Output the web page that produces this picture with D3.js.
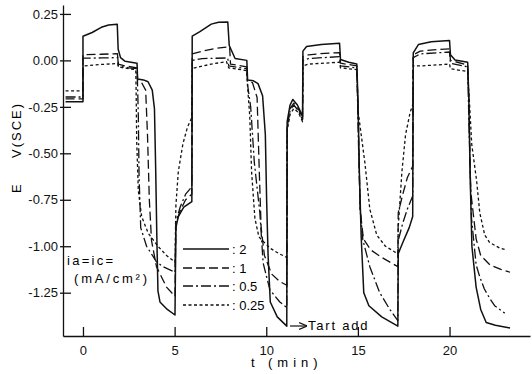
<!DOCTYPE html>
<html>
<head>
<meta charset="utf-8">
<script src="https://cdn.jsdelivr.net/npm/d3@7"></script>
<style>
  body { margin: 0; background: #fff; }
  svg { display: block; font-family: "Liberation Sans", Arial, sans-serif; }
  .axis path, .axis line { stroke: #111; stroke-width: 1.3; }
  .axis text { font-size: 13px; fill: #111; }
</style>
</head>
<body>
<div id="chart"></div>
<script>
// time ticks (min) and potential ticks (V vs SCE)
var xTicks = [0, 5, 10, 15, 20];
var yTicks = [0.25, 0, -0.25, -0.5, -0.75, -1.0, -1.25];

// current density labels, ia = ic (mA/cm2)
var currents = ["2", "1", "0.5", "0.25"];

// [t (min), E (V)], one array per current density
var solid2 = [
  [-0.95,-0.222],[0.0,-0.222],[0.0,0.13],[0.5,0.15],[1.0,0.178],[1.4,0.19],[1.87,0.195],
  [1.92,0.06],[2.05,0.015],[2.3,-0.005],[2.95,-0.015],[2.98,-0.1],[3.3,-0.105],[3.55,-0.115],
  [3.78,-0.16],[3.9,-0.26],[3.97,-0.6],[4.03,-0.95],[4.09,-1.24],[4.2,-1.3],[4.6,-1.34],[5.02,-1.37],
  [5.07,-0.9],[5.2,-0.84],[5.5,-0.79],[5.94,-0.76],
  [5.96,0.13],[6.38,0.155],[7.0,0.195],[7.4,0.205],[7.9,0.207],[7.98,0.08],[8.3,0.01],[8.94,0.0],
  [8.98,-0.105],[9.3,-0.11],[9.55,-0.125],[9.8,-0.19],[9.95,-0.4],[10.02,-0.75],[10.1,-1.05],
  [10.22,-1.3],[10.6,-1.38],[11.12,-1.43],
  [11.14,-0.33],[11.3,-0.24],[11.45,-0.21],[11.7,-0.24],[11.98,-0.3],
  [12.0,0.05],[12.2,0.075],[13.0,0.085],[14.0,0.092],[14.05,0.005],[14.5,-0.01],[14.94,-0.02],
  [15.0,-0.2],[15.08,-0.6],[15.18,-0.95],[15.32,-1.25],[15.6,-1.32],[16.3,-1.38],[17.18,-1.43],
  [17.2,-1.04],[17.45,-0.98],[17.8,-0.9],[17.99,-0.84],
  [18.02,0.04],[18.3,0.085],[19.0,0.1],[20.0,0.107],[20.05,0.03],[20.3,0.002],[20.99,-0.01],
  [21.05,-0.2],[21.12,-0.6],[21.22,-1.0],[21.45,-1.22],[21.7,-1.34],[22.0,-1.41],[22.5,-1.425],[23.3,-1.44]
];

var dash1 = [
  [-0.95,-0.207],[0.0,-0.207],[0.0,0.03],[1.0,0.033],[1.88,0.036],[1.93,-0.02],[2.3,-0.03],[2.95,-0.04],
  [2.98,-0.11],[3.2,-0.12],[3.42,-0.16],[3.52,-0.4],[3.62,-0.75],[3.74,-0.97],[4.01,-1.11],[4.56,-1.22],[5.02,-1.27],
  [5.07,-0.88],[5.3,-0.81],[5.6,-0.75],[5.94,-0.72],
  [5.96,0.035],[6.54,0.05],[7.3,0.065],[8.0,0.074],[8.05,-0.02],[8.94,-0.035],[8.98,-0.115],[9.25,-0.12],
  [9.5,-0.2],[9.62,-0.6],[9.72,-0.9],[9.9,-1.05],[10.3,-1.15],[10.74,-1.19],[11.12,-1.21],
  [11.14,-0.35],[11.3,-0.26],[11.5,-0.23],[11.75,-0.26],[11.98,-0.31],
  [12.0,0.02],[12.3,0.03],[13.2,0.038],[14.0,0.042],[14.05,-0.015],[14.94,-0.03],[15.02,-0.3],[15.12,-0.8],
  [15.3,-0.96],[15.7,-1.02],[16.3,-1.06],[17.18,-1.11],
  [17.2,-0.82],[17.45,-0.72],[17.7,-0.63],[17.99,-0.57],
  [18.02,0.03],[18.4,0.05],[19.3,0.058],[20.0,0.062],[20.05,0.0],[20.99,-0.025],[21.05,-0.2],[21.15,-0.7],
  [21.45,-0.96],[21.7,-1.05],[22.2,-1.1],[22.8,-1.125],[23.3,-1.14]
];

var dashdot05 = [
  [-0.95,-0.197],[0.0,-0.197],[0.0,0.012],[1.0,0.013],[1.9,0.015],[1.93,-0.03],[2.5,-0.04],[2.95,-0.045],
  [2.98,-0.14],[3.02,-0.3],[3.06,-0.62],[3.15,-0.9],[3.47,-1.0],[4.02,-1.085],[4.36,-1.11],[5.02,-1.14],
  [5.07,-0.87],[5.3,-0.79],[5.6,-0.72],[5.94,-0.68],
  [5.96,0.0],[6.5,0.01],[7.9,0.013],[7.95,-0.03],[8.94,-0.045],[8.98,-0.13],[9.15,-0.25],[9.35,-0.55],
  [9.65,-0.82],[9.83,-1.09],[10.2,-1.235],[10.74,-1.3],[11.12,-1.33],
  [11.14,-0.36],[11.3,-0.27],[11.5,-0.24],[11.75,-0.27],[11.98,-0.32],
  [12.0,0.0],[12.3,0.01],[14.0,0.02],[14.05,-0.03],[14.94,-0.04],[15.02,-0.4],[15.12,-0.8],[15.27,-0.966],
  [15.65,-1.11],[16.19,-1.25],[16.74,-1.34],[17.18,-1.4],
  [17.2,-0.97],[17.45,-0.875],[17.7,-0.8],[17.99,-0.73],
  [18.02,0.015],[18.4,0.035],[20.0,0.045],[20.05,-0.015],[20.99,-0.035],[21.05,-0.3],[21.2,-0.85],
  [21.45,-1.1],[21.65,-1.165],[21.9,-1.23],[22.19,-1.28],[22.46,-1.32],[23.01,-1.36]
];

var dot025 = [
  [-0.95,-0.164],[0.0,-0.164],[0.0,-0.03],[1.0,-0.022],[1.9,-0.017],[1.93,-0.035],[2.5,-0.045],[2.88,-0.05],
  [2.9,-0.16],[2.93,-0.43],[3.02,-0.7],[3.2,-0.84],[3.56,-0.93],[4.09,-1.0],[4.56,-1.05],[5.02,-1.085],
  [5.07,-0.78],[5.2,-0.6],[5.45,-0.45],[5.7,-0.36],[5.93,-0.31],
  [5.96,-0.04],[6.11,-0.04],[7.0,-0.02],[7.83,-0.007],[7.95,-0.04],[8.94,-0.055],[8.98,-0.14],[9.1,-0.3],
  [9.2,-0.6],[9.38,-0.85],[9.6,-0.95],[10.2,-1.01],[10.7,-1.04],[11.12,-1.06],
  [11.14,-0.38],[11.3,-0.29],[11.5,-0.26],[11.75,-0.28],[11.98,-0.33],
  [12.0,-0.03],[12.3,-0.02],[14.0,-0.01],[14.05,-0.04],[14.94,-0.05],[15.02,-0.28],[15.38,-0.55],[15.65,-0.8],
  [16.03,-0.94],[16.5,-1.0],[17.0,-1.03],[17.18,-1.04],
  [17.2,-0.9],[17.4,-0.6],[17.6,-0.4],[17.85,-0.28],[17.99,-0.24],
  [18.02,-0.03],[18.4,-0.03],[20.0,-0.02],[20.05,-0.045],[20.99,-0.06],[21.1,-0.25],[21.21,-0.45],
  [21.48,-0.65],[21.65,-0.82],[21.92,-0.94],[22.19,-0.98],[22.74,-1.01],[23.1,-1.02]
];

var seriesList = [solid2, dash1, dashdot05, dot025];
var dashes = [null, "9,4", "10,3,2,3", "3,2.5"];

var width = 532, height = 374;

var svg = d3.select("#chart").append("svg")
    .attr("width", width)
    .attr("height", height);

var x = d3.scaleLinear().domain([-1.09, 24.39]).range([63, 530]);
var y = d3.scaleLinear().domain([-1.483, 0.298]).range([336, 5]);

// axes
var xAxis = svg.append("g")
    .attr("class", "axis")
    .attr("transform", "translate(0,336)")
    .call(d3.axisBottom(x).tickValues(xTicks).tickSizeInner(-9).tickSizeOuter(0).tickPadding(10)
        .tickFormat(d3.format("d")));

var yAxis = svg.append("g")
    .attr("class", "axis")
    .attr("transform", "translate(63,0)")
    .call(d3.axisLeft(y).tickValues(yTicks).tickSizeInner(-8).tickSizeOuter(0).tickPadding(5)
        .tickFormat(function (d) { return d3.format(".2f")(d).replace("\u2212", "-"); }));

yAxis.selectAll(".tick line").attr("x1", -3);

// traces
var line = d3.line()
    .x(function (d) { return x(d[0]); })
    .y(function (d) { return y(d[1]); });

svg.append("g").selectAll("path")
    .data(seriesList)
    .enter().append("path")
    .attr("d", line)
    .attr("fill", "none")
    .attr("stroke", "#111")
    .attr("stroke-width", function (d, i) { return i == 0 ? 1.5 : 1.3; })
    .attr("stroke-dasharray", function (d, i) { return dashes[i]; })
    .attr("stroke-linejoin", "round");

// legend
var legend = svg.append("g").selectAll(".legend")
    .data(currents)
    .enter().append("g")
    .attr("class", "legend")
    .attr("transform", function (d, i) { return "translate(183," + [249, 268, 286, 305][i] + ")"; });

legend.append("line")
    .attr("x1", 0).attr("x2", 46)
    .attr("stroke", "#111")
    .attr("stroke-width", function (d, i) { return i == 0 ? 1.5 : 1.3; })
    .attr("stroke-dasharray", function (d, i) { return dashes[i]; });

legend.append("text")
    .attr("x", 49)
    .attr("dy", "0.35em")
    .style("font-size", "13px")
    .text(function (d) { return ": " + d; });

// annotations
svg.append("text")
    .attr("x", 67).attr("y", 265)
    .style("font-size", "13px").style("letter-spacing", "2.3px")
    .text("ia=ic=");

svg.append("text")
    .attr("x", 74).attr("y", 283)
    .style("font-size", "13px").style("letter-spacing", "2.8px")
    .text("(mA/cm²)");

svg.append("defs").append("marker")
    .attr("id", "arr")
    .attr("viewBox", "0 0 10 10")
    .attr("refX", 9).attr("refY", 5)
    .attr("markerWidth", 7).attr("markerHeight", 7)
    .attr("orient", "auto")
    .append("path")
    .attr("d", "M0,1 L10,5 L0,9")
    .attr("fill", "none")
    .attr("stroke", "#111")
    .attr("stroke-width", 1.5);

svg.append("line")
    .attr("x1", x(11.3)).attr("x2", x(12.2))
    .attr("y1", 326).attr("y2", 326)
    .attr("stroke", "#111").attr("stroke-width", 1.2)
    .attr("marker-end", "url(#arr)");

svg.append("text")
    .attr("x", 308).attr("y", 330)
    .style("font-size", "13px").style("letter-spacing", "1.8px")
    .text("Tart add");

// axis titles
svg.append("text")
    .attr("x", 251).attr("y", 367)
    .style("font-size", "13px")
    .text("t");

svg.append("text")
    .attr("x", 268).attr("y", 367)
    .style("font-size", "13px").style("letter-spacing", "5px")
    .text("(min)");

svg.append("text")
    .attr("transform", "translate(21,193) rotate(-90)")
    .style("font-size", "13px")
    .text("E");

svg.append("text")
    .attr("transform", "translate(21,158) rotate(-90)")
    .style("font-size", "13px").style("letter-spacing", "2px")
    .text("V(SCE)");
</script>
</body>
</html>
